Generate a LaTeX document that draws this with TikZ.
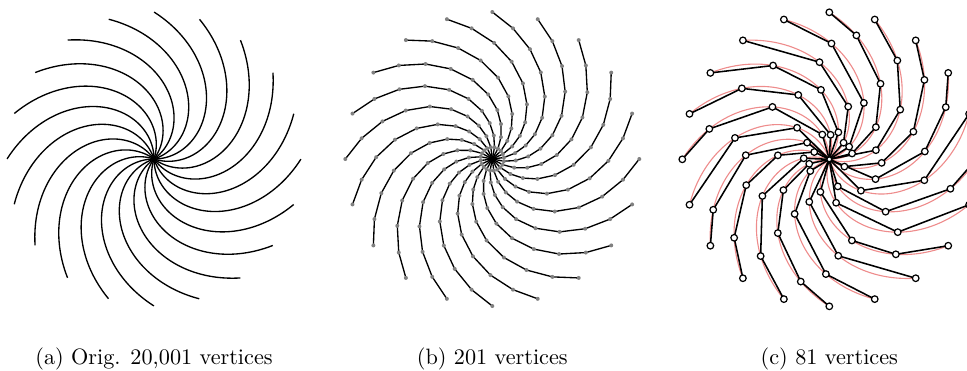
\documentclass[tikz,border=0pt]{standalone}
\definecolor{origred}{RGB}{238,140,140}
\tikzset{
  arm/.style={line width=0.6pt, black},
  origarm/.style={line width=0.5pt, origred},
  simparm/.style={line width=0.7pt, black, line join=round},
  bdot/.style={fill=black!50},
  cdot/.style={draw=black, fill=white, line width=0.55pt},
  captext/.style={inner sep=0pt, anchor=base, font=\normalsize}
}
\begin{document}
\begin{tikzpicture}[x=0.45pt,y=0.45pt]
\useasboundingbox (0,-370) rectangle (967,0);
\begin{scope}
\clip (0,-370) rectangle (967,0);
% (a) original spirals
\foreach \p in {0,18,...,342}
  \draw[arm] plot[domain=0:1, samples=90, variable=\t]
    ({154+147*\t*cos(\p-90+90*\t)},{-159+147*\t*sin(\p-90+90*\t)});
% (b) 201 vertices
\foreach \p in {0,18,...,342} {
  \draw[arm, line join=round] (492.3,-159)
    \foreach \f in {0.08,0.16,0.245,0.335,0.44,0.555,0.675,0.79,0.9,1}
      { -- ({492.3+147*\f*cos(\p-90+90*\f)},{-159+147*\f*sin(\p-90+90*\f)}) };
}
\foreach \p in {0,18,...,342} {
  \foreach \f in {0.08,0.16,0.245,0.335,0.44,0.555,0.675,0.79,0.9,1}
    \fill[bdot] ({492.3+147*\f*cos(\p-90+90*\f)},{-159+147*\f*sin(\p-90+90*\f)}) circle (2);
}
% (c) 81 vertices: original in red, simplified in black
\foreach \p in {0,18,...,342}
  \draw[origarm] plot[domain=0:1, samples=90, variable=\t]
    ({829.3+147*\t*cos(\p-90+90*\t)},{-159.3+147*\t*sin(\p-90+90*\t)});
\def\armlist{0/{0.848,0.523,0.193}, 18/{0.662,0.303}, 36/{0.868,0.652,0.342},
  54/{0.843,0.602,0.357,0.114}, 72/{0.816,0.589,0.323}, 90/{0.863,0.621,0.385,0.16},
  108/{0.788,0.45,0.16}, 126/{0.664,0.381,0.149}, 144/{0.744,0.476,0.194},
  162/{0.766,0.486,0.167}, 180/{0.842,0.526,0.175}, 198/{0.658,0.307},
  216/{0.861,0.569,0.189}, 234/{0.839,0.592,0.351,0.114}, 252/{0.807,0.519,0.174},
  270/{0.854,0.612,0.376,0.14}, 288/{0.781,0.44,0.152}, 306/{0.659,0.32},
  324/{0.789,0.573,0.23}, 342/{0.68,0.299}}
\foreach \p/\fl in \armlist {
  \draw[simparm] ({829.3+147*cos(\p)},{-159.3+147*sin(\p)})
    \foreach \f in \fl
      { -- ({829.3+147*\f*cos(\p-90+90*\f)},{-159.3+147*\f*sin(\p-90+90*\f)}) }
    -- (829.3,-159.3);
}
\foreach \p/\fl in \armlist {
  \draw[cdot] ({829.3+147*cos(\p)},{-159.3+147*sin(\p)}) circle (3.3);
  \foreach \f in \fl
    \draw[cdot] ({829.3+147*\f*cos(\p-90+90*\f)},{-159.3+147*\f*sin(\p-90+90*\f)}) circle (3.3);
}
\draw[cdot] (829.3,-159.3) circle (2.4);
\end{scope}
% captions
\node[captext] (capa) at (154,-364) {(a) Orig. 20,001 vertices};
\node[captext] (capb) at (492.3,-364) {(b) 201 vertices};
\node[captext] (capc) at (829.3,-364) {(c) 81 vertices};
\end{tikzpicture}
\end{document}
